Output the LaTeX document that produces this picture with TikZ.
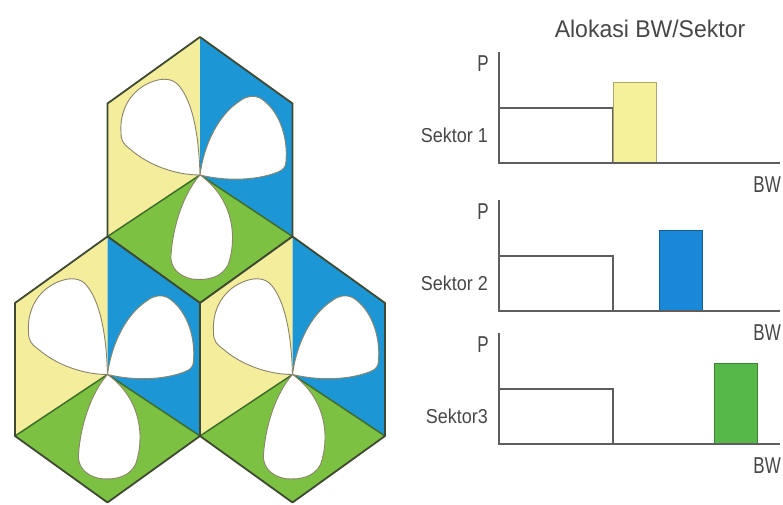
\documentclass[tikz,border=0pt]{standalone}
\usepackage{graphicx}
\usepackage{fontspec}
\setmainfont{Liberation Sans}
\usetikzlibrary{calc}

\definecolor{cellyellow}{HTML}{F3ED9C}
\definecolor{cellblue}{HTML}{1C96D5}
\definecolor{cellgreen}{HTML}{7DC143}
\definecolor{edgedark}{HTML}{3D4A31}
\definecolor{seamgreen}{HTML}{3F6E2A}
\definecolor{leafedge}{HTML}{8A846A}
\definecolor{axisgray}{HTML}{5E5E5E}
\definecolor{textgray}{HTML}{474747}
\definecolor{baryellow}{HTML}{F5F09A}
\definecolor{barblue}{HTML}{1A88D6}
\definecolor{bargreen}{HTML}{55B848}

% vertically stretched text
\newcommand{\tallbox}[2]{\scalebox{1}[#1]{#2}}

\begin{document}
\begin{tikzpicture}[x=1pt,y=-1pt,
    hexline/.style={draw=edgedark,line width=1.8pt,line join=round},
    seam/.style={draw=seamgreen,line width=1.5pt},
    leaf/.style={fill=white,draw=leafedge,line width=0.9pt,line join=round},
    axisline/.style={draw=axisgray,line width=1.4pt},
    freeband/.style={draw=axisgray,line width=1.1pt,fill=white},
    lbl/.style={text=textgray,inner sep=0pt}]

    % Border / background
    \fill[white] (0,0) rectangle (783,505);
    \useasboundingbox (0,0) rectangle (783,505);

    % Three cube cells, each with three leaves
    \foreach \cx/\cy in {200/170, 107.5/369.5, 292.5/369.5} {
      \begin{scope}[shift={(\cx,\cy)}]
        % faces
        \fill[cellyellow] (0,-133) -- (-92.5,-66.5) -- (-92.5,66.5) -- (0,5) -- cycle;
        \fill[cellblue] (0,-133) -- (92.5,-66.5) -- (92.5,66.5) -- (0,5) -- cycle;
        \fill[cellgreen] (0,5) -- (-92.5,66.5) -- (0,133) -- (92.5,66.5) -- cycle;
        % seams of the lower face
        \draw[seam] (-92.5,66.5) -- (0,5) -- (92.5,66.5);
        % outline
        \draw[hexline] (0,-133) -- (92.5,-66.5) -- (92.5,66.5) -- (0,133)
                       -- (-92.5,66.5) -- (-92.5,-66.5) -- cycle;
        % leaves
        \begin{scope}[shift={(0,5)}]
          % upper left
          \draw[leaf] (0,0) .. controls (-1,-35) and (-6,-70) .. (-20,-88)
                     .. controls (-25,-95) and (-33,-97) .. (-42,-95)
                     .. controls (-64,-90) and (-81,-70) .. (-79,-42)
                     .. controls (-79,-34) and (-76,-30) .. (-70,-26)
                     .. controls (-52,-10) and (-25,0) .. (0,0) -- cycle;
          % right
          \draw[leaf] (0,0) .. controls (4,-30) and (18,-60) .. (40,-74)
                     .. controls (46,-79) and (54,-80) .. (60,-77)
                     .. controls (78,-66) and (88,-40) .. (86,-14)
                     .. controls (86,-8) and (83,-5) .. (78,-3)
                     .. controls (55,6) and (25,6) .. (0,0) -- cycle;
          % lower
          \draw[leaf] (0,0) .. controls (-16,18) and (-27,50) .. (-29,80)
                     .. controls (-30,92) and (-22,101) .. (-8,104)
                     .. controls (8,106) and (22,102) .. (28,90)
                     .. controls (37,65) and (35,25) .. (0,0) -- cycle;
        \end{scope}
      \end{scope}
    }

    % Title
    \node[lbl] (title) at (650,29) {\fontsize{23}{27}\selectfont\tallbox{1.05}{Alokasi BW/Sektor}};

    % One spectrum plot per sector
    \foreach \n/\ytop/\sek/\barx/\barcol in {1/52/Sektor 1/613/baryellow,
                                            2/200/Sektor 2/659/barblue,
                                            3/333/Sektor3/714/bargreen} {
      \draw[freeband] (499,\ytop+56) rectangle (613,\ytop+111);
      \filldraw[fill=\barcol,draw=\barcol!70!black,line width=0.9pt]
        (\barx,\ytop+30) rectangle (\barx+43,\ytop+111);
      \draw[axisline] (499,\ytop) -- (499,\ytop+111) -- (780,\ytop+111);
      \node[lbl] (p\n) at (483,\ytop+12) {\fontsize{17}{20}\selectfont\tallbox{1.35}{P}};
      \node[lbl,anchor=east] (sek\n) at (488,\ytop+83) {\fontsize{18}{21}\selectfont\tallbox{1.12}{\sek}};
      \node[lbl,anchor=east] (bw\n) at (781,\ytop+133) {\fontsize{17}{20}\selectfont\tallbox{1.35}{BW}};
    }
\end{tikzpicture}
\end{document}
